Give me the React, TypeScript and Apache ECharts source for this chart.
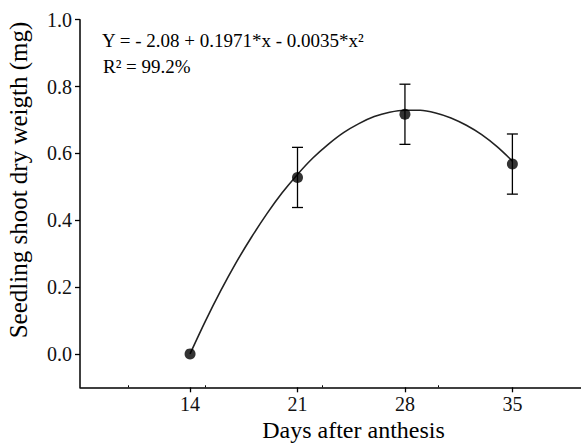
import React, { useEffect, useRef } from "react";
import * as echarts from "echarts";

// Observed data (days after anthesis)
const days = [14, 21, 28, 35];
const means = [0.0, 0.528, 0.717, 0.568];
const errors = [0, 0.09, 0.09, 0.09];

// Fitted curve
const curveDays = [14, 15, 16, 17, 18, 19, 20, 21, 22, 23, 24, 25, 26, 27, 28, 29, 30, 31, 32, 33, 34, 35];
const curveValues = [0.0, 0.098, 0.189, 0.273, 0.349, 0.419, 0.482, 0.537, 0.586, 0.627, 0.662, 0.689, 0.71, 0.723, 0.729, 0.729, 0.721, 0.706, 0.684, 0.656, 0.62, 0.577];

const xTicks = [14, 21, 28, 35];
const xMinorTicks = [10, 15, 22.6, 30.2];
const yTicks = [0, 0.2, 0.4, 0.6, 0.8, 1.0];

const equationText = "Y = - 2.08 + 0.1971*x - 0.0035*x\u00B2";
const r2Text = "R\u00B2 = 99.2%";
const xTitle = "Days after anthesis";
const yTitle = "Seedling shoot dry weigth (mg)";

const FONT = "Liberation Serif";

export default function App() {
  const ref = useRef<HTMLDivElement>(null);
  useEffect(() => {
    if (!ref.current) return;
    const chart = echarts.init(ref.current, null, { renderer: "svg" });
    const errData = days.map((d, i) => [d, means[i] - errors[i], means[i] + errors[i]]);
    chart.setOption({
      animation: false,
      backgroundColor: "#ffffff",
      textStyle: { fontFamily: FONT },
      grid: { left: 80, right: 0, top: 19.7, bottom: 58.7, containLabel: false },
      xAxis: [
        {
          type: "value",
          min: 6.83,
          max: 39.47,
          position: "bottom",
          axisLine: { show: true, onZero: false, lineStyle: { color: "#000", width: 1.5 } },
          axisTick: { show: true, length: 5, lineStyle: { color: "#000", width: 1.3 }, customValues: xTicks },
          axisLabel: {
            show: true,
            customValues: xTicks,
            color: "#111",
            fontFamily: FONT,
            fontSize: 20,
            margin: 7,
          },
          splitLine: { show: false },
        },
        {
          type: "value",
          min: 6.83,
          max: 39.47,
          position: "bottom",
          offset: 0,
          axisLine: { show: false, onZero: false },
          axisTick: { show: true, inside: true, length: 2, lineStyle: { color: "#000", width: 1 }, customValues: xMinorTicks },
          axisLabel: { show: false },
          splitLine: { show: false },
        },
      ],
      yAxis: {
        type: "value",
        min: -0.1,
        max: 1.0,
        interval: 0.1,
        axisLine: { show: true, onZero: false, lineStyle: { color: "#000", width: 1.5 } },
        axisTick: { show: true, length: 5, lineStyle: { color: "#000", width: 1.3 }, customValues: yTicks },
        axisLabel: {
          show: true,
          customValues: yTicks,
          formatter: (v: number) => v.toFixed(1),
          color: "#111",
          fontFamily: FONT,
          fontSize: 20,
          margin: 8,
        },
        splitLine: { show: false },
      },
      series: [
        {
          type: "line",
          xAxisIndex: 0,
          data: curveDays.map((d, i) => [d, curveValues[i]]),
          smooth: 0.3,
          showSymbol: false,
          symbol: "none",
          lineStyle: { color: "#222", width: 1.6 },
          z: 2,
        },
        {
          type: "custom",
          xAxisIndex: 0,
          data: errData,
          renderItem: (params: any, api: any) => {
            const x = api.value(0);
            const lo = api.value(1);
            const hi = api.value(2);
            if (hi - lo <= 0) return { type: "group", children: [] };
            const pLo = api.coord([x, lo]);
            const pHi = api.coord([x, hi]);
            const hw = 5.5;
            const style = { stroke: "#000", lineWidth: 1.3, fill: "none" };
            return {
              type: "group",
              children: [
                { type: "line", shape: { x1: pLo[0], y1: pLo[1], x2: pHi[0], y2: pHi[1] }, style },
                { type: "line", shape: { x1: pLo[0] - hw, y1: pLo[1], x2: pLo[0] + hw, y2: pLo[1] }, style },
                { type: "line", shape: { x1: pHi[0] - hw, y1: pHi[1], x2: pHi[0] + hw, y2: pHi[1] }, style },
              ],
            };
          },
          z: 3,
        },
        {
          type: "scatter",
          xAxisIndex: 0,
          data: days.map((d, i) => [d, means[i]]),
          symbol: "circle",
          symbolSize: 11,
          itemStyle: { color: "#000" },
          z: 4,
        },
      ],
      graphic: [
        {
          type: "text",
          left: 102,
          top: 31,
          style: { text: equationText, fontFamily: FONT, fontSize: 19, fill: "#000" },
        },
        {
          type: "text",
          left: 103,
          top: 57,
          style: { text: r2Text, fontFamily: FONT, fontSize: 19, fill: "#000" },
        },
        {
          type: "text",
          x: 353.5,
          y: 430,
          style: { text: xTitle, fontFamily: FONT, fontSize: 24, fill: "#000", align: "center", verticalAlign: "middle" },
        },
        {
          type: "text",
          x: 18,
          y: 180,
          rotation: Math.PI / 2,
          style: { text: yTitle, fontFamily: FONT, fontSize: 25, fill: "#000", align: "center", verticalAlign: "middle" },
        },
      ],
    });
    return () => chart.dispose();
  }, []);
  return <div ref={ref} style={{ width: 581, height: 446, position: "absolute", left: 0, top: 0 }} />;
}
